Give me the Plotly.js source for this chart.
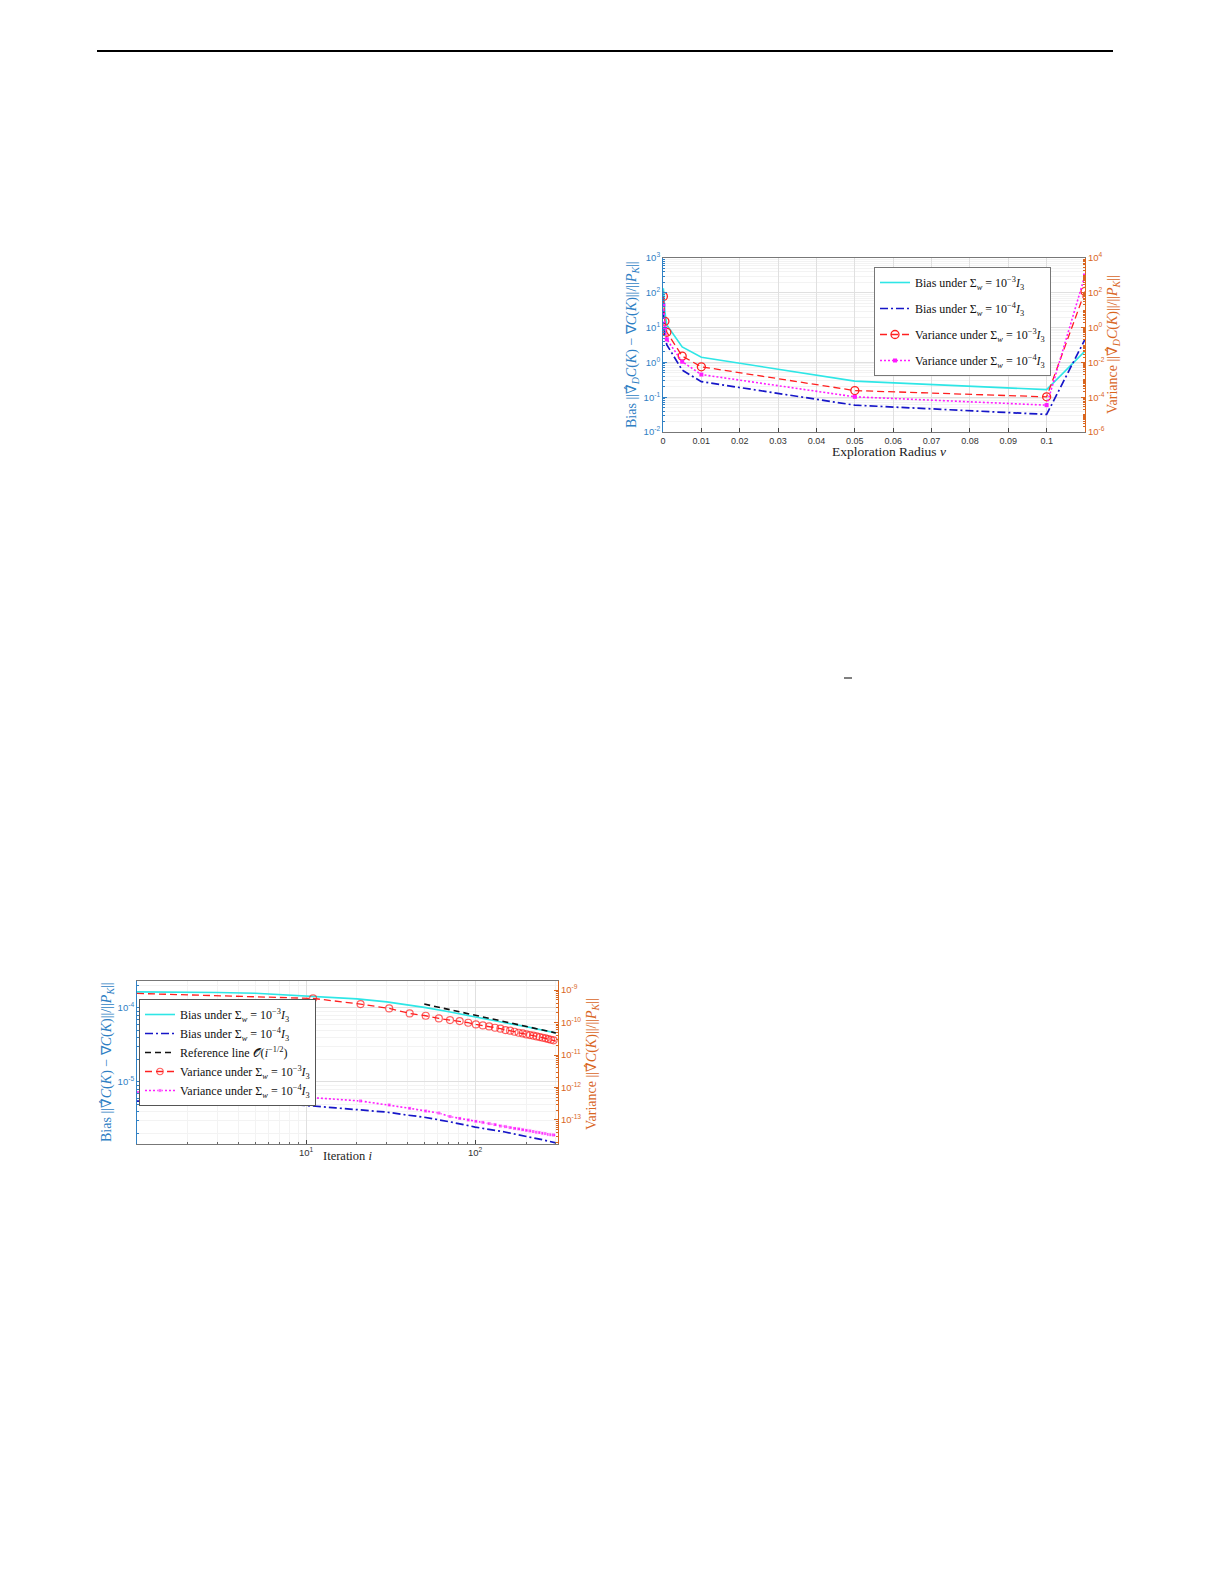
<!DOCTYPE html>
<html>
<head>
<meta charset="utf-8">
<script src="https://cdn.plot.ly/plotly-3.0.1.min.js"></script>
<style>
  html, body { margin: 0; padding: 0; background: #ffffff; }
  #chart { width: 1225px; height: 1585px; }
</style>
</head>
<body>
<div id="chart"></div>
<script>
// ---------- Top figure: bias / variance versus exploration radius ----------
const radius = [0.0001, 0.0005, 0.001, 0.005, 0.01, 0.05, 0.1, 0.11];
const radiusBiasHigh = [135, 28, 12, 2.8, 1.4, 0.29, 0.165, 2.1];      // Bias, Σw = 1e-3 I3 (left axis)
const radiusBiasLow  = [30, 6, 3.2, 0.6, 0.28, 0.059, 0.032, 4.6];     // Bias, Σw = 1e-4 I3 (left axis)
const radiusVarHigh  = [62, 2.3, 0.54, 0.023, 0.0056, 2.4e-4, 1.05e-4, 120];   // Variance, Σw = 1e-3 I3 (right axis)
const radiusVarLow   = [20, 0.9, 0.21, 0.011, 0.002, 1.05e-4, 3.5e-5, 1000];   // Variance, Σw = 1e-4 I3 (right axis)
const radiusTickVals = [0, 0.01, 0.02, 0.03, 0.04, 0.05, 0.06, 0.07, 0.08, 0.09, 0.1];
const radiusTickText = ['0', '0.01', '0.02', '0.03', '0.04', '0.05', '0.06', '0.07', '0.08', '0.09', '0.1'];
const topLeftTickVals = [1e-2, 1e-1, 1e0, 1e1, 1e2, 1e3];
const topLeftTickText = ['10<sup>-2</sup>', '10<sup>-1</sup>', '10<sup>0</sup>', '10<sup>1</sup>', '10<sup>2</sup>', '10<sup>3</sup>'];
const topRightTickVals = [1e-6, 1e-4, 1e-2, 1e0, 1e2, 1e4];
const topRightTickText = ['10<sup>-6</sup>', '10<sup>-4</sup>', '10<sup>-2</sup>', '10<sup>0</sup>', '10<sup>2</sup>', '10<sup>4</sup>'];

// ---------- Bottom figure: bias / variance versus iteration ----------
const iterLine = [1, 2, 3, 5, 7, 10, 15, 20, 30, 40, 50, 70, 100, 150, 200, 250, 300];
const iterBiasHigh = [1.65e-4, 1.64e-4, 1.62e-4, 1.58e-4, 1.52e-4, 1.46e-4, 1.39e-4, 1.33e-4, 1.21e-4, 1.10e-4, 1.02e-4, 8.9e-5, 7.5e-5, 6.3e-5, 5.6e-5, 5.0e-5, 4.6e-5];
const iterBiasLow  = [5.5e-6, 5.45e-6, 5.4e-6, 5.2e-6, 5.0e-6, 4.8e-6, 4.45e-6, 4.2e-6, 3.9e-6, 3.55e-6, 3.33e-6, 2.9e-6, 2.45e-6, 2.1e-6, 1.85e-6, 1.65e-6, 1.5e-6];
const refIter   = [50, 300];
const refValues = [1.13e-4, 4.6e-5];
const iterMarks = [1, 11, 21, 31, 41, 51, 61, 71, 81, 91, 101, 111, 121, 131, 141, 151, 161, 171, 181, 191, 201, 211, 221, 231, 241, 251, 261, 271, 281, 291, 300];
const iterVarHigh = [7.9e-10, 5.54e-10, 3.71e-10, 2.73e-10, 1.91e-10, 1.62e-10, 1.34e-10, 1.19e-10, 1.11e-10, 9.88e-11, 8.78e-11, 8.18e-11, 7.62e-11, 6.93e-11, 6.46e-11, 5.88e-11, 5.61e-11, 5.22e-11, 4.86e-11, 4.64e-11, 4.32e-11, 4.12e-11, 3.94e-11, 3.75e-11, 3.58e-11, 3.41e-11, 3.26e-11, 3.11e-11, 2.96e-11, 2.83e-11, 2.70e-11];
const iterVarLow  = [7.28e-13, 4.86e-13, 3.85e-13, 2.90e-13, 2.29e-13, 1.89e-13, 1.64e-13, 1.27e-13, 1.12e-13, 1.00e-13, 9.1e-14, 8.5e-14, 7.7e-14, 7.2e-14, 6.5e-14, 6.2e-14, 5.8e-14, 5.5e-14, 5.3e-14, 5.0e-14, 4.8e-14, 4.6e-14, 4.4e-14, 4.2e-14, 4.1e-14, 3.9e-14, 3.8e-14, 3.6e-14, 3.5e-14, 3.45e-14, 3.37e-14];
const iterTickVals = [10, 100];
const iterTickText = ['10<sup>1</sup>', '10<sup>2</sup>'];
const botLeftTickVals = [1e-5, 1e-4];
const botLeftTickText = ['10<sup>-5</sup>', '10<sup>-4</sup>'];
const botRightTickVals = [1e-13, 1e-12, 1e-11, 1e-10, 1e-9];
const botRightTickText = ['10<sup>-13</sup>', '10<sup>-12</sup>', '10<sup>-11</sup>', '10<sup>-10</sup>', '10<sup>-9</sup>'];

// ---------- names ----------
const nameBiasHigh = 'Bias under Σ<sub><i>w</i></sub> = 10<sup>−3</sup><i>I</i><sub>3</sub>';
const nameBiasLow  = 'Bias under Σ<sub><i>w</i></sub> = 10<sup>−4</sup><i>I</i><sub>3</sub>';
const nameVarHigh  = 'Variance under Σ<sub><i>w</i></sub> = 10<sup>−3</sup><i>I</i><sub>3</sub>';
const nameVarLow   = 'Variance under Σ<sub><i>w</i></sub> = 10<sup>−4</sup><i>I</i><sub>3</sub>';
const nameRef      = 'Reference line 𝒪(<i>i</i><sup>−1/2</sup>)';

// ---------- styling helpers ----------
const W = 1225, H = 1585;
const px = v => v / W;
const py = v => 1 - v / H;
const BLUE_AX = '#2f80c4';
const ORANGE_AX = '#d9661f';
const CYAN = '#2ee6e6';
const NAVY = '#1616c8';
const RED = '#ff2020';
const MAGENTA = '#ff1cff';
const GRID = '#e0e0e0';
const MINOR_GRID = '#f3f3f3';
const SERIF = 'Liberation Serif, Times New Roman, serif';
const SANS = 'Liberation Sans, Arial, sans-serif';
const HATNABLA = '<span style="font-family:DejaVu Serif">∇̂</span>';

const varMarkerSizeHigh = iterMarks.map(i => (i === 1 || i === 300) ? 0 : 7);
const varMarkerSizeLow = iterMarks.map(i => (i === 1 || i === 300) ? 0 : 4);

const traces = [
  // top figure
  { x: radius, y: radiusBiasHigh, xaxis: 'x', yaxis: 'y', mode: 'lines', name: nameBiasHigh,
    line: { color: CYAN, width: 1.6 }, legend: 'legend', legendgroup: 'ta' },
  { x: radius, y: radiusBiasLow, xaxis: 'x', yaxis: 'y', mode: 'lines', name: nameBiasLow,
    line: { color: NAVY, width: 1.7, dash: '8px,3px,2px,3px' }, legend: 'legend', legendgroup: 'tb' },
  { x: radius, y: radiusVarHigh, xaxis: 'x', yaxis: 'y2', mode: 'lines+markers', name: nameVarHigh,
    line: { color: RED, width: 1.3, dash: '7px,4px' },
    marker: { symbol: 'circle-open', size: 8, color: RED, line: { width: 1.3, color: RED } },
    legend: 'legend', legendgroup: 'tc' },
  { x: radius, y: radiusVarLow, xaxis: 'x', yaxis: 'y2', mode: 'lines+markers', name: nameVarLow,
    line: { color: MAGENTA, width: 1.6, dash: '2px,2px' },
    marker: { symbol: 'square', size: 4, color: MAGENTA },
    legend: 'legend', legendgroup: 'td' },
  // bottom figure
  { x: iterLine, y: iterBiasHigh, xaxis: 'x3', yaxis: 'y3', mode: 'lines', name: nameBiasHigh,
    line: { color: CYAN, width: 1.6 }, legend: 'legend2' },
  { x: iterLine, y: iterBiasLow, xaxis: 'x3', yaxis: 'y3', mode: 'lines', name: nameBiasLow,
    line: { color: NAVY, width: 1.7, dash: '8px,3px,2px,3px' }, legend: 'legend2' },
  { x: refIter, y: refValues, xaxis: 'x3', yaxis: 'y3', mode: 'lines', name: nameRef,
    line: { color: '#111111', width: 1.6, dash: '6px,4px' }, legend: 'legend2' },
  { x: iterMarks, y: iterVarHigh, xaxis: 'x3', yaxis: 'y4', mode: 'lines+markers', name: nameVarHigh,
    line: { color: RED, width: 1.3, dash: '7px,4px' },
    marker: { symbol: 'circle-open', size: varMarkerSizeHigh, color: RED, line: { width: 1.2, color: RED } },
    legend: 'legend2' },
  { x: iterMarks, y: iterVarLow, xaxis: 'x3', yaxis: 'y4', mode: 'lines+markers', name: nameVarLow,
    line: { color: MAGENTA, width: 1.6, dash: '2px,2px' },
    marker: { symbol: 'square', size: varMarkerSizeLow, color: MAGENTA },
    legend: 'legend2' }
];

function logAxis(extra, color) {
  return Object.assign({
    type: 'log', tickmode: 'array', ticks: 'inside', ticklen: 4, tickcolor: color,
    showline: true, linecolor: color, linewidth: 1, zeroline: false,
    tickfont: { family: SANS, size: 9.5, color: color },
    showgrid: true, gridcolor: GRID,
    minor: { dtick: 'D1', ticks: 'inside', ticklen: 2, tickcolor: color, showgrid: true, gridcolor: MINOR_GRID }
  }, extra);
}

const layout = {
  width: W, height: H,
  margin: { l: 0, r: 0, t: 0, b: 0 },
  paper_bgcolor: '#ffffff', plot_bgcolor: '#ffffff',
  showlegend: true,
  // ---- top figure axes ----
  xaxis: {
    domain: [px(663), px(1085)], anchor: 'y', range: [0, 0.11],
    tickmode: 'array', tickvals: radiusTickVals, ticktext: radiusTickText,
    ticks: 'inside', ticklen: 4, tickcolor: '#444',
    showline: true, linecolor: '#777', mirror: true, zeroline: false,
    showgrid: true, gridcolor: GRID,
    tickfont: { family: SANS, size: 9, color: '#333' }
  },
  yaxis: logAxis({ domain: [py(432), py(258)], anchor: 'x', range: [-2, 3],
    tickvals: topLeftTickVals, ticktext: topLeftTickText }, BLUE_AX),
  yaxis2: logAxis({ overlaying: 'y', side: 'right', anchor: 'x', range: [-6, 4],
    tickvals: topRightTickVals, ticktext: topRightTickText, showgrid: false,
    minor: { dtick: 'D1', ticks: 'inside', ticklen: 2, tickcolor: ORANGE_AX, showgrid: false } }, ORANGE_AX),
  // ---- bottom figure axes ----
  xaxis3: {
    domain: [px(137), px(558)], anchor: 'y3', type: 'log', range: [0, 2.49],
    tickmode: 'array', tickvals: iterTickVals, ticktext: iterTickText,
    ticks: 'inside', ticklen: 4, tickcolor: '#444',
    showline: true, linecolor: '#777', mirror: true, zeroline: false,
    showgrid: true, gridcolor: GRID,
    minor: { dtick: 'D1', ticks: 'inside', ticklen: 2, tickcolor: '#666', showgrid: true, gridcolor: MINOR_GRID },
    tickfont: { family: SANS, size: 9.5, color: '#333' }
  },
  yaxis3: logAxis({ domain: [py(1144), py(981)], anchor: 'x3', range: [-5.84, -3.635],
    tickvals: botLeftTickVals, ticktext: botLeftTickText }, BLUE_AX),
  yaxis4: logAxis({ overlaying: 'y3', side: 'right', anchor: 'x3', range: [-13.74, -8.72],
    tickvals: botRightTickVals, ticktext: botRightTickText, showgrid: false,
    minor: { dtick: 'D1', ticks: 'inside', ticklen: 2, tickcolor: ORANGE_AX, showgrid: false } }, ORANGE_AX),
  // ---- legends ----
  legend: {
    x: px(874), y: py(267), xanchor: 'left', yanchor: 'top',
    bgcolor: '#ffffff', bordercolor: '#777', borderwidth: 1,
    font: { family: SERIF, size: 12, color: '#111' },
    traceorder: 'grouped', tracegroupgap: 7, itemwidth: 30
  },
  legend2: {
    x: px(139), y: py(999), xanchor: 'left', yanchor: 'top',
    bgcolor: '#ffffff', bordercolor: '#555', borderwidth: 1,
    font: { family: SERIF, size: 12, color: '#111' },
    tracegroupgap: 0, itemwidth: 30
  },
  annotations: [
    { text: 'Bias ||' + HATNABLA + '<sub><i>D</i></sub><i>C</i>(<i>K</i>) − ∇<i>C</i>(<i>K</i>)||/||<i>P</i><sub><i>K</i></sub>||',
      xref: 'paper', yref: 'paper', x: px(632), y: py(345), textangle: -90,
      xanchor: 'center', yanchor: 'middle', showarrow: false,
      font: { family: SERIF, size: 14, color: BLUE_AX } },
    { text: 'Variance ||' + HATNABLA + '<sub><i>D</i></sub><i>C</i>(<i>K</i>)||/||<i>P</i><sub><i>K</i></sub>||',
      xref: 'paper', yref: 'paper', x: px(1113), y: py(345), textangle: -90,
      xanchor: 'center', yanchor: 'middle', showarrow: false,
      font: { family: SERIF, size: 14, color: ORANGE_AX } },
    { text: 'Exploration Radius <i>ν</i>',
      xref: 'paper', yref: 'paper', x: px(889), y: py(451),
      xanchor: 'center', yanchor: 'middle', showarrow: false,
      font: { family: SERIF, size: 13.5, color: '#222' } },
    { text: 'Bias ||' + HATNABLA + '<i>C</i>(<i>K</i>) − ∇<i>C</i>(<i>K</i>)||/||<i>P</i><sub><i>K</i></sub>||',
      xref: 'paper', yref: 'paper', x: px(107), y: py(1062), textangle: -90,
      xanchor: 'center', yanchor: 'middle', showarrow: false,
      font: { family: SERIF, size: 14, color: BLUE_AX } },
    { text: 'Variance ||' + HATNABLA + '<i>C</i>(<i>K</i>)||/||<i>P</i><sub><i>K</i></sub>||',
      xref: 'paper', yref: 'paper', x: px(592), y: py(1064), textangle: -90,
      xanchor: 'center', yanchor: 'middle', showarrow: false,
      font: { family: SERIF, size: 14, color: ORANGE_AX } },
    { text: 'Iteration <i>i</i>',
      xref: 'paper', yref: 'paper', x: px(347), y: py(1156),
      xanchor: 'center', yanchor: 'middle', showarrow: false,
      font: { family: SERIF, size: 12.5, color: '#222' } }
  ],
  shapes: [
    { type: 'line', xref: 'paper', yref: 'paper', x0: px(97), x1: px(1113), y0: py(51), y1: py(51),
      line: { color: '#000000', width: 2 } },
    { type: 'line', xref: 'paper', yref: 'paper', x0: px(844), x1: px(852), y0: py(678), y1: py(678),
      line: { color: '#000000', width: 1 } }
  ]
};

Plotly.newPlot('chart', traces, layout, { staticPlot: true, displayModeBar: false });
</script>
</body>
</html>
